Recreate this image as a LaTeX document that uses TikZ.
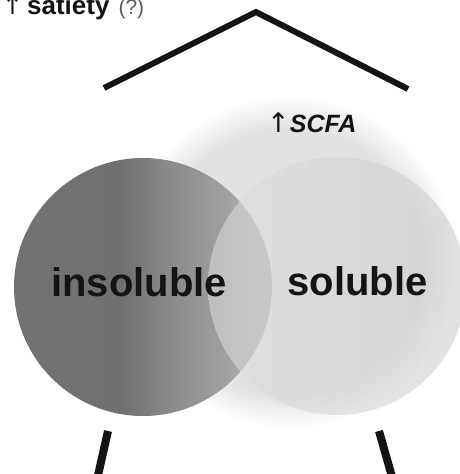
\documentclass[tikz,border=0pt]{standalone}
\usepackage{fontspec}
\setmainfont{Liberation Sans}
\newfontfamily\arrowfont{DejaVu Sans}
\usetikzlibrary{positioning}
\definecolor{insoldark}{RGB}{114,114,114}
\definecolor{insolband}{RGB}{112,112,112}
\definecolor{insolmid}{RGB}{138,138,138}
\definecolor{insolpale}{RGB}{158,158,158}
\definecolor{insollight}{RGB}{180,180,180}
\definecolor{soluleft}{RGB}{222,222,222}
\definecolor{soluright}{RGB}{200,200,200}
\definecolor{glowgray}{RGB}{226,226,226}
\definecolor{inkblack}{RGB}{20,20,20}
\definecolor{hintgray}{RGB}{90,90,90}
\pgfdeclareradialshading{scfaglow}{\pgfpoint{0bp}{0bp}}{color(0bp)=(glowgray); color(20bp)=(glowgray); color(25bp)=(white); color(50bp)=(white)}
\pgfdeclarehorizontalshading{insolshade}{100bp}{color(0bp)=(insoldark); color(27bp)=(insoldark); color(46bp)=(insolband); color(55bp)=(insolmid); color(65bp)=(insolpale); color(73bp)=(insollight); color(100bp)=(insollight)}
\tikzset{
    fibre/.style={circle, minimum size=258pt, inner sep=0pt},
    fibrelabel/.style={anchor=base, inner sep=0pt, font=\fontsize{40}{40}\selectfont\bfseries, text=inkblack},
    beam/.style={line width=6pt, inkblack, line join=miter},
    leg/.style={line width=8pt, inkblack}
}

\begin{document}
\begin{tikzpicture}[x=1pt, y=-1pt]
    \useasboundingbox (0,0) rectangle (459,474);

    % SCFA glow behind the fibres
    \shade[shading=scfaglow] (290,262) circle (167pt);

    % Fibre circles
    \node[fibre, shading=insolshade] (insol) at (143,287) {};
    \node[fibre, left color=soluleft, right color=soluright, fill opacity=0.55] (sol) at (337,286) {};

    % Labels
    \node[fibrelabel] (insoltext) at (139,296) {insoluble};
    \node[fibrelabel] (soltext) at (357.5,295) {soluble};
    \node[anchor=base west, inner sep=0pt, text=inkblack] (scfa) at (267,132)
        {{\arrowfont\fontsize{27}{27}\selectfont ↑}\kern0pt{\fontsize{25}{25}\selectfont\bfseries\itshape SCFA}};
    \node[anchor=base west, inner sep=0pt, text=inkblack] (satiety) at (2,14)
        {{\arrowfont\fontsize{25}{25}\selectfont ↑}\kern4pt{\fontsize{26}{26}\selectfont\bfseries satiety}\kern9pt{\fontsize{21}{21}\selectfont\color{hintgray}(?)}};

    % Roof and legs
    \coordinate (eaveL) at (104,88);
    \coordinate (apex) at (256,12);
    \coordinate (eaveR) at (408,89);
    \draw[beam] (eaveL) -- (apex) -- (eaveR);

    \coordinate (legLtop) at (108,431);
    \coordinate (legLfoot) at (96.5,482);
    \coordinate (legRtop) at (379,431);
    \coordinate (legRfoot) at (393.5,482);
    \draw[leg] (legLtop) -- (legLfoot);
    \draw[leg] (legRtop) -- (legRfoot);
\end{tikzpicture}
\end{document}
